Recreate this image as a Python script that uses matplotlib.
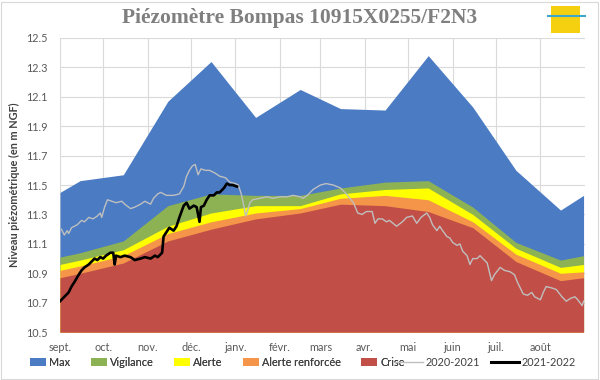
"""Piézomètre Bompas : seuils de gestion et niveaux 2020-2021 / 2021-2022"""

import matplotlib
matplotlib.use('Agg')
import matplotlib.pyplot as plt
import pandas as pd
from matplotlib.patches import Patch, Rectangle
from matplotlib.lines import Line2D

# Dates des sommets des seuils (1er sept., milieu de chaque mois, 31 août)
THRESHOLD_DATES = ['2021-09-01', '2021-09-15', '2021-10-15', '2021-11-15', '2021-12-15',
                   '2022-01-15', '2022-02-15', '2022-03-15', '2022-04-15', '2022-05-15',
                   '2022-06-15', '2022-07-15', '2022-08-15', '2022-08-31']
MAX = [11.45, 11.53, 11.57, 12.07, 12.34, 11.96, 12.15, 12.02, 12.01, 12.38, 12.03, 11.60, 11.33, 11.43]
VIGILANCE = [11.01, 11.04, 11.12, 11.36, 11.44, 11.43, 11.43, 11.48, 11.52, 11.53, 11.35, 11.11, 10.99, 11.02]
ALERTE = [10.96, 10.99, 11.06, 11.22, 11.31, 11.36, 11.36, 11.44, 11.47, 11.48, 11.30, 11.07, 10.94, 10.96]
ALERTE_RENF = [10.92, 10.95, 11.02, 11.17, 11.25, 11.31, 11.34, 11.41, 11.43, 11.40, 11.25, 11.03, 10.90, 10.91]
CRISE = [10.87, 10.90, 10.97, 11.12, 11.20, 11.27, 11.31, 11.37, 11.36, 11.32, 11.21, 10.98, 10.85, 10.87]

# Chroniques : jours depuis le 1er septembre et niveau (m NGF)
DAYS_2020 = [1, 3, 5, 6, 8, 12, 15, 17, 20, 23, 26, 28, 29, 31, 33, 36, 39, 43, 45, 49,
             52, 56, 59, 63, 65, 68, 70, 74, 79, 83, 86, 88, 90, 92, 94, 96, 98, 101, 104, 108,
             111, 115, 118, 122, 124, 126, 128, 129, 130, 132, 134, 139, 144, 148, 153, 158, 162, 167, 169, 172,
             176, 181, 185, 190, 195, 199, 204, 207, 210, 213, 217, 219, 221, 224, 227, 229, 234, 238, 241, 245,
             248, 251, 255, 257, 259, 262, 264, 266, 269, 271, 273, 276, 278, 280, 283, 285, 287, 290, 292, 294,
             297, 300, 302, 306, 309, 313, 316, 318, 322, 325, 328, 330, 334, 336, 338, 342, 345, 349, 352, 355,
             358, 360, 363, 364]
LEVEL_2020 = [11.20, 11.16, 11.19, 11.17, 11.21, 11.23, 11.26, 11.25, 11.28, 11.27, 11.29, 11.31, 11.28, 11.35, 11.40,
              11.39, 11.38, 11.39, 11.37, 11.34, 11.35, 11.37, 11.39, 11.37, 11.41, 11.44, 11.45, 11.43, 11.43, 11.44,
              11.49, 11.56, 11.60, 11.63, 11.64, 11.57, 11.61, 11.60, 11.60, 11.58, 11.56, 11.55, 11.52, 11.51, 11.50,
              11.44, 11.35, 11.29, 11.31, 11.38, 11.40, 11.41, 11.42, 11.41, 11.42, 11.42, 11.43, 11.42, 11.41, 11.43,
              11.47, 11.50, 11.51, 11.50, 11.48, 11.44, 11.38, 11.31, 11.30, 11.32, 11.32, 11.24, 11.27, 11.27, 11.25,
              11.26, 11.22, 11.25, 11.28, 11.29, 11.24, 11.28, 11.31, 11.28, 11.23, 11.19, 11.22, 11.19, 11.15, 11.14,
              11.11, 11.09, 11.10, 11.05, 11.02, 10.96, 11.00, 11.00, 11.02, 11.00, 10.97, 10.85, 10.89, 10.94, 10.92,
              10.91, 10.89, 10.84, 10.76, 10.75, 10.77, 10.74, 10.72, 10.77, 10.81, 10.80, 10.79, 10.74, 10.71, 10.73,
              10.74, 10.72, 10.68, 10.71]
DAYS_2021 = [0, 3, 6, 8, 10, 13, 15, 17, 20, 22, 24, 26, 28, 30, 32, 35, 37, 38, 39, 42,
             45, 49, 52, 56, 59, 63, 66, 68, 71, 72, 74, 76, 79, 81, 83, 86, 88, 90, 93, 95,
             97, 98, 100, 102, 104, 107, 109, 111, 114, 116, 118, 120, 123]
LEVEL_2021 = [10.71, 10.74, 10.77, 10.81, 10.84, 10.89, 10.92, 10.94, 10.96, 10.98, 11.00, 10.99, 11.01, 11.00, 11.02,
              11.04, 11.04, 10.96, 11.02, 11.01, 11.02, 11.01, 10.99, 11.00, 11.01, 11.00, 11.02, 11.01, 11.04, 11.15,
              11.18, 11.21, 11.19, 11.22, 11.28, 11.36, 11.38, 11.34, 11.36, 11.35, 11.25, 11.35, 11.36, 11.40, 11.43,
              11.43, 11.45, 11.45, 11.48, 11.51, 11.50, 11.50, 11.49]

MONTH_LABELS = ['sept.', 'oct.', 'nov.', 'déc.', 'janv.', 'févr.', 'mars', 'avr.', 'mai', 'juin', 'juil.', 'août']

START = pd.Timestamp('2021-09-01')
BOTTOM = 10.5
FONT = ['Lato', 'DejaVu Sans']

COLORS = {
    'Max': '#4A7BC3',
    'Vigilance': '#8DB254',
    'Alerte': '#FFFF00',
    'Alerte renforcée': '#F4954A',
    'Crise': '#C24F47',
}


def to_dates(days):
    return START + pd.to_timedelta(days, unit='D')


def main():
    plt.rcParams['font.family'] = FONT
    fig = plt.figure(figsize=(6, 3.8), dpi=100)
    ax = fig.add_axes([0.1, 0.126, 0.875, 0.774])

    thr_x = pd.to_datetime(THRESHOLD_DATES)
    levels = [('Max', MAX), ('Vigilance', VIGILANCE), ('Alerte', ALERTE),
              ('Alerte renforcée', ALERTE_RENF), ('Crise', CRISE)]
    for i, (name, values) in enumerate(levels):
        ax.fill_between(thr_x, BOTTOM, values, color=COLORS[name], lw=0, zorder=2 + i)

    ax.plot(to_dates(DAYS_2020), LEVEL_2020, color='#BFBFBF', lw=1.0, zorder=10)
    ax.plot(to_dates(DAYS_2021), LEVEL_2021, color='black', lw=1.9, zorder=11)

    ax.set_xlim(START, pd.Timestamp('2022-09-01'))
    ax.set_ylim(10.5, 12.5)
    ax.set_yticks([10.5 + 0.2 * k for k in range(11)])
    ax.yaxis.set_major_formatter(plt.FormatStrFormatter('%.1f'))
    month_starts = pd.date_range(START, periods=12, freq='MS')
    ax.set_xticks(month_starts)
    ax.set_xticklabels(MONTH_LABELS)

    ax.grid(True, color='#DADADA', lw=0.8, zorder=0)
    ax.set_axisbelow(True)
    for spine in ax.spines.values():
        spine.set_visible(False)
    ax.tick_params(axis='both', length=0, labelsize=7.8, labelcolor='#595959')
    ax.tick_params(axis='y', pad=9)
    ax.tick_params(axis='x', pad=7)

    ax.set_ylabel('Niveau piézométrique (en m NGF)', fontsize=7.8, fontweight='bold',
                  color='#404040', labelpad=4)

    fig.text(0.5, 0.953, 'Piézomètre Bompas 10915X0255/F2N3', ha='center', va='center',
             fontsize=15.5, fontweight='bold', color='#7F7F7F', family='Liberation Serif')

    legend_kw = dict(frameon=False, fontsize=7.8, handletextpad=0.25, labelcolor='#404040',
                     borderaxespad=0, borderpad=0)
    patches = [Patch(facecolor=COLORS[name], label=name) for name, _ in levels]
    leg1 = fig.legend(handles=patches, loc='center left', bbox_to_anchor=(0.05, 0.047), ncol=5,
                      handlelength=1.5, handleheight=0.7, columnspacing=1.9, **legend_kw)
    lines = [Line2D([], [], color='#BFBFBF', lw=1.0, label='2020-2021'),
             Line2D([], [], color='black', lw=2.2, label='2021-2022')]
    fig.legend(handles=lines, loc='center right', bbox_to_anchor=(0.96, 0.047), ncol=2,
               handlelength=2.6, columnspacing=1.0, **legend_kw)
    fig.add_artist(leg1)

    # logo du syndicat en haut à droite
    fig.add_artist(Rectangle((0.918, 0.913), 0.049, 0.07, transform=fig.transFigure,
                             facecolor='#F5D010', edgecolor='none'))
    fig.add_artist(Line2D([0.913, 0.975], [0.957, 0.957], transform=fig.transFigure,
                          color='#3FA7C9', lw=1.5))
    # cadre de la zone de graphique
    fig.add_artist(Rectangle((0.002, 0.003), 0.995, 0.993, transform=fig.transFigure,
                             facecolor='none', edgecolor='#D9D9D9', lw=0.8))

    fig.savefig('out.png', dpi=100)


if __name__ == '__main__':
    main()
